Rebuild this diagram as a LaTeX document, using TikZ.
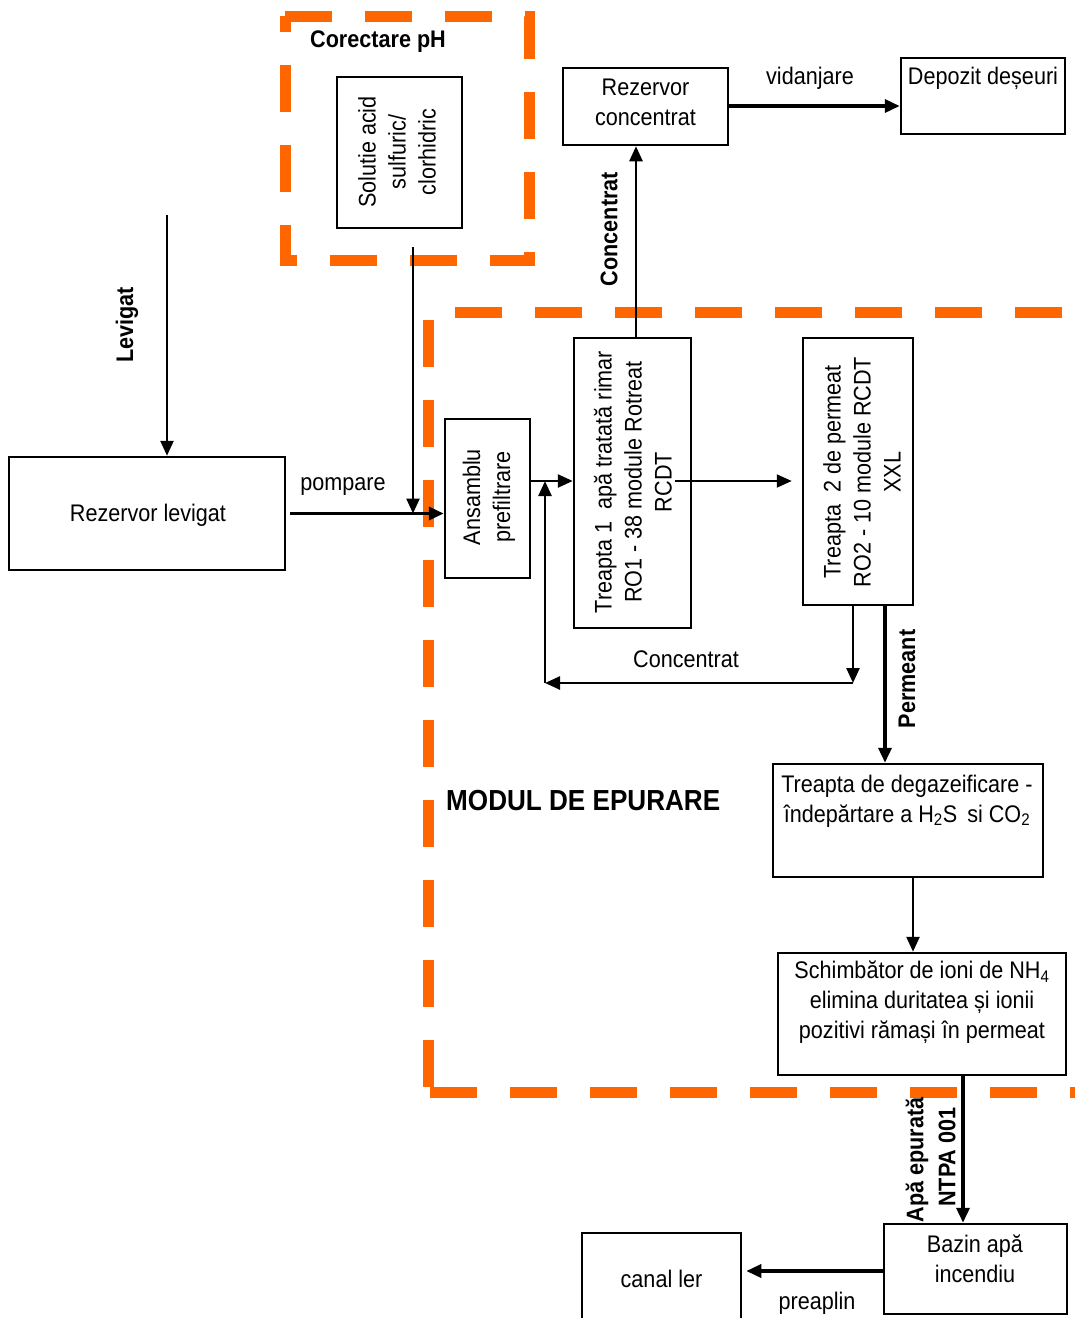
\documentclass[tikz,border=0pt]{standalone}
\usepackage{fontspec}
\setmainfont{Liberation Sans}[FakeStretch=0.9]
\usetikzlibrary{arrows.meta}
\definecolor{dashorange}{HTML}{FF6600}
\begin{document}
\begin{tikzpicture}[x=1pt,y=-1pt,
  every node/.style={font=\fontsize{24}{30}\selectfont, inner sep=0pt, align=center},
  box/.style={draw, line width=2.5pt, fill=white},
  lbl/.style={font=\fontsize{24}{30}\selectfont\bfseries},
  rot/.style={rotate=90},
  orangedash/.style={draw=dashorange, line width=11pt, dash pattern=on 47pt off 33pt},
  tip/.style={-{Triangle[length=15pt,width=13pt]}},
  thinarr/.style={tip, line width=2.5pt},
  thickarr/.style={tip, line width=3.5pt}]
\useasboundingbox (0,0) rectangle (1075,1318);
% dashed groups
\draw[orangedash] (285,16) -- (529,16) -- (529,260) -- (285,260) -- cycle;
\draw[orangedash, dash phase=53pt] (428,312) -- (1075,312);
\draw[orangedash, dash phase=72pt] (428,312) -- (428,1092);
\draw[orangedash, dash phase=78pt] (428,1092) -- (1075,1092);
% boxes
\node[box, minimum width=276pt, minimum height=113pt] (lev) at (147,513.5) {};
\node (levt) at (148,515) {Rezervor levigat};
\node[box, minimum width=125pt, minimum height=151pt] (acid) at (399.5,152.5) {};
\node[rot] (acidt) at (397,152) {Solutie acid\\sulfuric/\\clorhidric};
\node[box, minimum width=85pt, minimum height=159pt] (pref) at (487.5,498.5) {};
\node[rot] (preft) at (489,497) {Ansamblu\\prefiltrare};
\node[box, minimum width=117pt, minimum height=290pt] (t1) at (632.5,483) {};
\node[rot] (t1t) at (633,482) {Treapta 1\ \ apă tratată rimar\\RO1 - 38 module Rotreat\\RCDT};
\node[box, minimum width=110pt, minimum height=267pt] (t2) at (858,471.5) {};
\node[rot] (t2t) at (862,472) {Treapta\ \ 2 de permeat\\RO2 - 10 module RCDT\\XXL};
\node[box, minimum width=165pt, minimum height=77pt] (rc) at (645.5,106.5) {};
\node (rct) at (645.5,102.5) {Rezervor\\concentrat};
\node[box, minimum width=164pt, minimum height=76pt] (dep) at (983,96) {};
\node (dept) at (983,78) {Depozit deșeuri};
\node[box, minimum width=270pt, minimum height=113pt] (deg) at (908,820.5) {};
\node (degt) at (907,801) {Treapta de degazeificare -\\îndepărtare a H\textsubscript{2}S\, si CO\textsubscript{2}};
\node[box, minimum width=288pt, minimum height=122pt] (sch) at (922,1014) {};
\node (scht) at (922,1002) {Schimbător de ioni de NH\textsubscript{4}\\elimina duritatea și ionii\\pozitivi rămași în permeat};
\node[box, minimum width=183pt, minimum height=90pt] (baz) at (975.5,1269) {};
\node (bazt) at (975,1259) {Bazin apă\\incendiu};
\node[box, minimum width=159pt, minimum height=92pt] (ler) at (661.5,1279) {canal ler};
% titles
\node[lbl, anchor=west] (cph) at (310,42) {Corectare pH};
\node[lbl, anchor=west, font=\fontsize{29}{34}\selectfont\bfseries] (mod) at (446,801) {MODUL DE EPURARE};
% coordinates
\coordinate (levin) at (167,215);
\coordinate (acidout) at (413,247);
\coordinate (y481) at (0,481);
\coordinate (c1) at (853,683);
\coordinate (c2) at (545,683);
\coordinate (yb) at (0,1271);
\coordinate (yv) at (0,106);
% connectors
\draw[thinarr] (levin) -- (levin |- lev.north);
\draw[thickarr] ([xshift=4pt]lev.east) -- (lev.east -| pref.west);
\draw[thinarr] (acidout) -- (acidout |- lev.east);
\draw[thinarr] (pref.east |- y481) -- (t1.west |- y481);
\draw[thinarr, line width=2pt, shorten >=10pt] ([xshift=-17pt]t1.east |- y481) -- (t2.west |- y481);
\draw[thinarr] (t2.south -| c1) -- (c1);
\draw[thinarr] (c1) -- (c2);
\draw[thinarr] (c2) -- (c2 |- y481);
\draw[thickarr] (t2.south -| 885,0) -- (deg.north -| 885,0);
\draw[thinarr] (deg.south -| 913,0) -- (sch.north -| 913,0);
\draw[thickarr] (sch.south -| 963,0) -- (baz.north -| 963,0);
\draw[thickarr, shorten >=4pt] (baz.west |- yb) -- (ler.east |- yb);
\draw[thinarr] (t1.north -| 636,0) -- (rc.south -| 636,0);
\draw[thickarr] (rc.east |- yv) -- (dep.west |- yv);
% connector labels
\node (lpomp) at (343,487) {pompare};
\node (lvid) at (810,78) {vidanjare};
\node (lconc) at (686,659) {Concentrat};
\node (lpreap) at (817,1303) {preaplin};
\node[lbl, rot] (llev) at (127,325) {Levigat};
\node[lbl, rot] (lconc2) at (609,229) {Concentrat};
\node[lbl, rot] (lperm) at (907,679) {Permeant};
\node[lbl, rot] (lapa) at (917,1160) {Apă epurată};
\node[lbl, rot] (lntpa) at (947,1157) {NTPA 001};
\end{tikzpicture}
\end{document}
